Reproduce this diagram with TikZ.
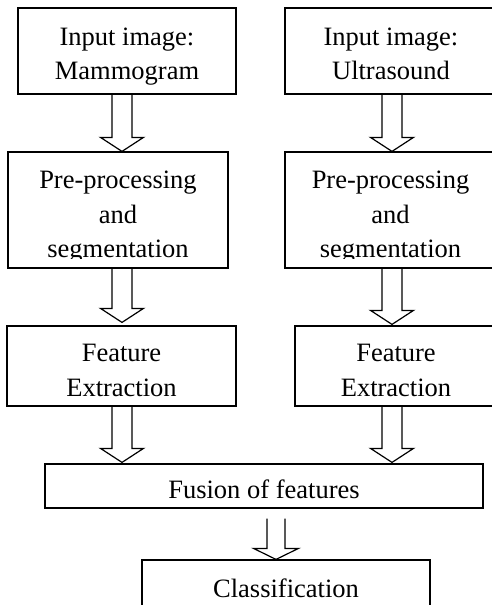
\documentclass[tikz,border=0pt]{standalone}
\usepackage{fontspec}
\setmainfont{Liberation Serif}
\usetikzlibrary{calc,fit}
\newcommand{\shafthw}{10}
\newcommand{\headhw}{21.5}
\newcommand{\headlen}{14}
% #1 column coordinate, #2 source node, #3 target node, #4 start gap, #5 tip gap
\newcommand{\blockarrow}[5]{%
  \draw[blockline]
    ($(#1 |- #2.south)+(-\shafthw,#4)$) --
    ($(#1 |- #3.north)+(-\shafthw,-\headlen-#5)$) --
    ($(#1 |- #3.north)+(-\headhw,-\headlen-#5)$) --
    ($(#1 |- #3.north)+(0,-#5)$) --
    ($(#1 |- #3.north)+(\headhw,-\headlen-#5)$) --
    ($(#1 |- #3.north)+(\shafthw,-\headlen-#5)$) --
    ($(#1 |- #2.south)+(\shafthw,#4)$);}
\begin{document}
\begin{tikzpicture}[x=1pt,y=-1pt,
  box/.style={draw, line width=1.2pt, inner sep=0pt, rectangle},
  blockline/.style={draw, line width=1.2pt, line join=miter},
  lbl/.style={anchor=base, inner sep=0pt, font=\fontsize{26.5}{34}\selectfont}]
\clip (0,0) rectangle (492,605);
\fill[white] (0,0) rectangle (492,605);
% boxes
\node[box, fit={(18,8) (236,94)}] (inL) {};
\node[box, fit={(285,8) (497,94)}] (inR) {};
\node[box, fit={(8,152) (228,268)}] (preL) {};
\node[box, fit={(285,152) (497,268)}] (preR) {};
\node[box, fit={(7,326) (236,406)}] (feaL) {};
\node[box, fit={(295,326) (497,406)}] (feaR) {};
\node[box, fit={(45,464) (483,508)}] (fus) {};
\node[box, fit={(142,560) (430,612)}] (cls) {};
% texts
\node[lbl] (tInL1) at (127,45) {Input image:};
\node[lbl] (tInL2) at (127,79) {Mammogram};
\node[lbl] (tInR1) at (391,45) {Input image:};
\node[lbl] (tInR2) at (391,79) {Ultrasound};
\begin{scope}
  \clip (0,152) rectangle (492,258);
  \node[lbl] (tPreL1) at (118,188) {Pre-processing};
  \node[lbl] (tPreL2) at (118,223) {and};
  \node[lbl] (tPreL3) at (118,257) {segmentation};
  \node[lbl] (tPreR1) at (390.5,188) {Pre-processing};
  \node[lbl] (tPreR2) at (390.5,223) {and};
  \node[lbl] (tPreR3) at (390.5,257) {segmentation};
\end{scope}
\begin{scope}
  \clip (0,326) rectangle (492,397);
  \node[lbl] (tFeaL1) at (121.5,361) {Feature};
  \node[lbl] (tFeaL2) at (121.5,396) {Extraction};
  \node[lbl] (tFeaR1) at (396,361) {Feature};
  \node[lbl] (tFeaR2) at (396,396) {Extraction};
\end{scope}
\begin{scope}
  \clip (0,464) rectangle (492,499);
  \node[lbl] (tFus) at (264,498) {Fusion of features};
\end{scope}
\node[lbl] (tCls) at (286,597) {Classification};
% arrow columns
\coordinate (colL) at (122,0);
\coordinate (colR) at (392,0);
\coordinate (colC) at (276,0);
\blockarrow{colL}{inL}{preL}{0}{0}
\blockarrow{colR}{inR}{preR}{0}{0}
\blockarrow{colL}{preL}{feaL}{0}{3}
\blockarrow{colR}{preR}{feaR}{0}{1}
\blockarrow{colL}{feaL}{fus}{0}{1}
\blockarrow{colR}{feaR}{fus}{0}{1}
\renewcommand{\shafthw}{9}
\renewcommand{\headhw}{22.5}
\renewcommand{\headlen}{11}
\blockarrow{colC}{fus}{cls}{10}{0}
\end{tikzpicture}
\end{document}
